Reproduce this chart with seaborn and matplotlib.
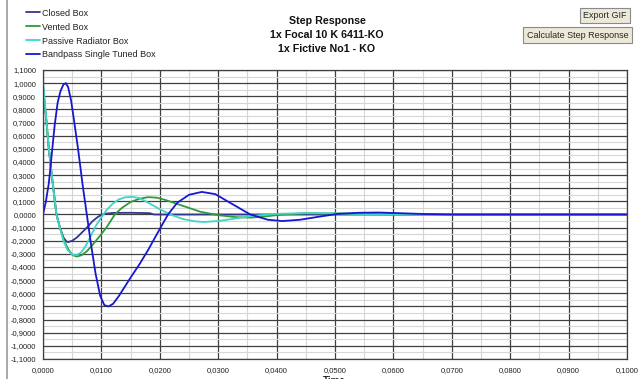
import pandas as pd
import matplotlib.pyplot as plt
import seaborn as sns
from matplotlib.ticker import MultipleLocator, FuncFormatter
from matplotlib.lines import Line2D

# --- dati ---
series_names = ["Closed Box", "Vented Box", "Passive Radiator Box", "Bandpass Single Tuned Box"]
series_colors = ["#35358f", "#2f9a3a", "#3fd6c6", "#1717d0"]

closed_t = [0.0, 0.0005, 0.0010, 0.0015, 0.0023, 0.0029, 0.0035, 0.0040, 0.0043, 0.0050,
            0.0058, 0.0066, 0.0075, 0.0085, 0.0095, 0.0105, 0.0120, 0.0150, 0.0183, 0.0190, 0.1000]
closed_y = [0.97, 0.75, 0.50, 0.30, 0.0, -0.10, -0.175, -0.205, -0.21, -0.20,
            -0.175, -0.14, -0.10, -0.05, -0.015, 0.005, 0.012, 0.013, 0.010, 0.0, 0.0]

vented_t = [0.0, 0.0005, 0.0010, 0.0015, 0.0023, 0.0029, 0.0036, 0.0044, 0.0051, 0.0058,
            0.0066, 0.0075, 0.0085, 0.0098, 0.0110, 0.0123, 0.0135, 0.0150, 0.0165, 0.0180,
            0.0195, 0.0210, 0.0230, 0.0250, 0.0270, 0.0300, 0.0330, 0.0355, 0.0380, 0.0410,
            0.0450, 0.0500, 0.0550, 0.0600, 0.1000]
vented_y = [0.97, 0.75, 0.50, 0.30, 0.0, -0.10, -0.20, -0.27, -0.31, -0.32,
            -0.31, -0.28, -0.23, -0.16, -0.09, 0.0, 0.05, 0.095, 0.12, 0.132,
            0.128, 0.11, 0.08, 0.05, 0.02, -0.005, -0.02, -0.024, -0.015, 0.0,
            0.01, 0.008, 0.003, 0.0, 0.0]

passive_t = [0.0, 0.0005, 0.0010, 0.0015, 0.0023, 0.0029, 0.0035, 0.0042, 0.0050, 0.0057,
             0.0065, 0.0073, 0.0080, 0.0090, 0.0100, 0.0110, 0.0120, 0.0130, 0.0140, 0.0152,
             0.0165, 0.0180, 0.0200, 0.0218, 0.0240, 0.0260, 0.0275, 0.0300, 0.0330, 0.0360,
             0.0400, 0.0450, 0.0500, 0.0550, 0.0600, 0.1000]
passive_y = [1.0, 0.76, 0.50, 0.30, 0.0, -0.10, -0.20, -0.27, -0.305, -0.31,
             -0.29, -0.24, -0.18, -0.09, -0.02, 0.04, 0.085, 0.115, 0.13, 0.135,
             0.125, 0.09, 0.04, 0.0, -0.035, -0.052, -0.057, -0.05, -0.03, -0.01,
             0.005, 0.01, 0.008, 0.003, 0.0, 0.0]

bandpass_t = [0.0, 0.0005, 0.0010, 0.0015, 0.0020, 0.0025, 0.0030, 0.0035, 0.0039, 0.0043,
              0.0048, 0.0053, 0.0060, 0.0068, 0.0075, 0.0082, 0.0090, 0.0098, 0.0105, 0.0112,
              0.0120, 0.0130, 0.0140, 0.0150, 0.0165, 0.0180, 0.0195, 0.0214, 0.0230, 0.0250,
              0.0272, 0.0295, 0.0320, 0.0355, 0.0385, 0.0410, 0.0440, 0.0475, 0.0505, 0.0540,
              0.0575, 0.0610, 0.0650, 0.0700, 0.1000]
bandpass_y = [0.0, 0.10, 0.24, 0.46, 0.68, 0.85, 0.94, 0.99, 1.0, 0.97,
              0.87, 0.72, 0.50, 0.22, 0.0, -0.22, -0.45, -0.62, -0.69, -0.70,
              -0.68, -0.62, -0.55, -0.48, -0.38, -0.27, -0.15, 0.0, 0.09, 0.15,
              0.172, 0.155, 0.09, 0.0, -0.04, -0.05, -0.04, -0.015, 0.005, 0.013,
              0.015, 0.01, 0.004, 0.0, 0.0]

title_lines = ["Step Response", "1x Focal 10 K 6411-KO", "1x Fictive No1 - KO"]

frames = []
for name, t, y in zip(series_names,
                      [closed_t, vented_t, passive_t, bandpass_t],
                      [closed_y, vented_y, passive_y, bandpass_y]):
    frames.append(pd.DataFrame({"Time": t, "Value": y, "Series": name}))
df = pd.concat(frames, ignore_index=True)

# --- grafica ---
sns.set_style("white")
plt.rcParams['font.family'] = ['Liberation Sans', 'DejaVu Sans']

fig = plt.figure(figsize=(6.4, 3.79), dpi=100)
ax = fig.add_axes([0.0672, 0.0528, 0.9125, 0.7625])

ax.xaxis.set_major_locator(MultipleLocator(0.01))
ax.xaxis.set_minor_locator(MultipleLocator(0.005))
ax.yaxis.set_major_locator(MultipleLocator(0.1))
ax.yaxis.set_minor_locator(MultipleLocator(0.05))
ax.grid(which='major', color='#404040', lw=0.9)
ax.grid(which='minor', color='#d6d6d6', lw=0.8)
ax.set_axisbelow(True)

sns.lineplot(data=df, x="Time", y="Value", hue="Series", hue_order=series_names,
             palette=series_colors, sort=False, estimator=None, lw=1.3,
             legend=False, ax=ax)

ax.set_xlim(0, 0.1)
ax.set_ylim(-1.1, 1.1)
fmt = FuncFormatter(lambda v, p: f"{v:.4f}".replace(".", ",").replace("-0,0000", "0,0000"))
ax.xaxis.set_major_formatter(fmt)
ax.yaxis.set_major_formatter(fmt)
ax.tick_params(which='major', labelsize=5.5, colors='#222222', length=3, width=0.8)
ax.tick_params(which='minor', length=0)
ax.tick_params(axis='x', pad=3)
ax.tick_params(axis='y', pad=2)
ax.set_xlabel("")
ax.set_ylabel("")
for s in ax.spines.values():
    s.set_color('#404040')
    s.set_linewidth(0.9)

# etichetta asse x (tagliata in basso come nell'originale)
fig.text(0.523, 0.009, "Time", ha='center', va='top', fontsize=7, fontweight='bold')

# titolo
for i, line in enumerate(title_lines):
    fig.text(0.511, 1 - (20.5 + 14 * i) / 379, line, ha='center', va='center',
             fontsize=7.7, fontweight='bold', color='#111111')

# legenda
handles = [Line2D([0], [0], color=c, lw=1.3) for c in series_colors]
fig.legend(handles, series_names, loc='upper left', bbox_to_anchor=(0.031, 0.994),
           frameon=False, fontsize=6.5, handlelength=1.55, handletextpad=0.25,
           labelspacing=0.55, labelcolor='#222222', borderaxespad=0.3)

# pulsanti
fig.text(0.9455, 1 - 15.5 / 379, "Export GIF", ha='center', va='center', fontsize=6.5,
         bbox=dict(boxstyle='square,pad=0.38', fc='#ece9d8', ec='#8a8a8a', lw=0.8))
fig.text(0.9025, 1 - 35 / 379, "Calculate Step Response", ha='center', va='center', fontsize=6.5,
         bbox=dict(boxstyle='square,pad=0.38', fc='#ece9d8', ec='#8a8a8a', lw=0.8))

# bordo sinistro
fig.add_artist(Line2D([7 / 640, 7 / 640], [0, 1], color='#9a9a9a', lw=1.2,
                      transform=fig.transFigure))

plt.savefig("out.png", dpi=100)
